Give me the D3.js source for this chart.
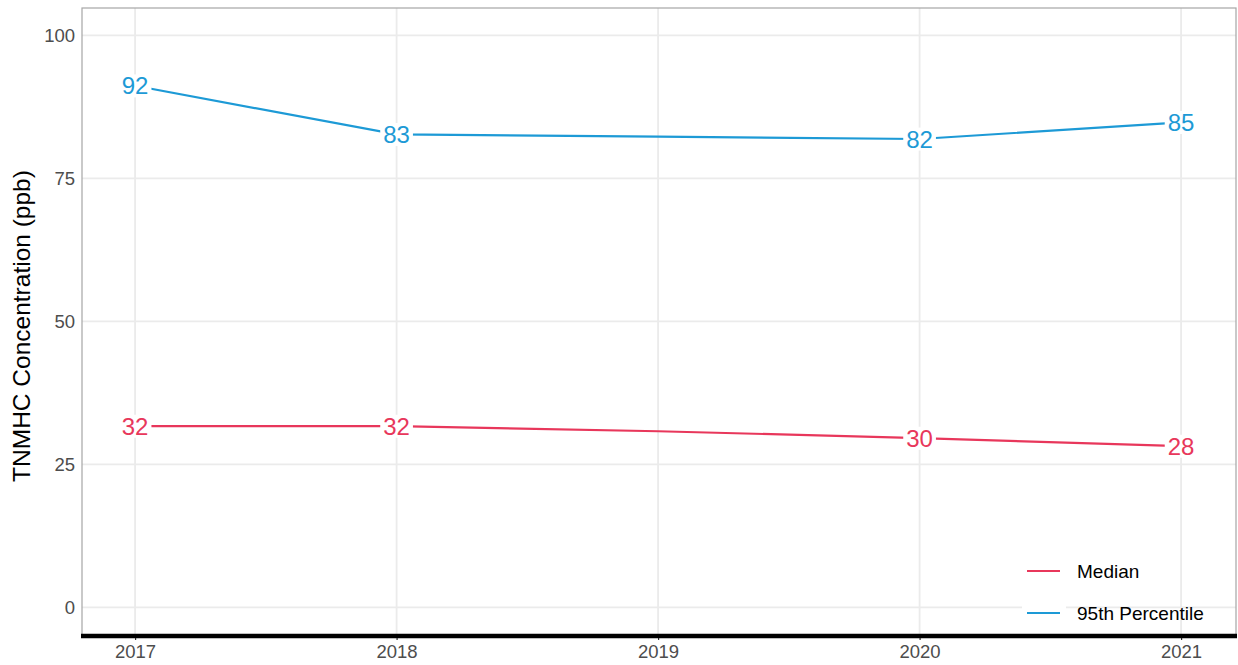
<!DOCTYPE html>
<html><head><meta charset="utf-8">
<script src="https://cdn.jsdelivr.net/npm/d3@7"></script>
<style>body{margin:0;background:#fff;font-family:"Liberation Sans",Arial,sans-serif;}</style>
</head><body><svg id="c" width="1238" height="665"></svg>
<script>
const years = [2017, 2018, 2019, 2020, 2021];
const medianValues = [31.7, 31.7, 30.8, 29.6, 28.2];
const p95Values = [91.2, 82.7, 82.3, 81.9, 84.8];
const medianLabels = ["32", "32", "", "30", "28"];
const p95Labels = ["92", "83", "", "82", "85"];
const yTicks = [0, 25, 50, 75, 100];
const seriesNames = ["Median", "95th Percentile"];
const colors = ["#e8375b", "#1d9ad6"];

const svg = d3.select("#c");
const L = 82, R = 1236, T = 8, B = 636;
const x = d3.scaleLinear().domain([2017 - 0.203, 2021 + 0.21]).range([L, R]);
const y = d3.scaleLinear().domain([-5.0, 104.8]).range([B, T]);

// grid
const g = svg.append("g");
g.selectAll(".hg").data(yTicks).join("line").attr("x1", L).attr("x2", R)
  .attr("y1", d => y(d)).attr("y2", d => y(d)).attr("stroke", "#ebebeb").attr("stroke-width", 1.8);
g.selectAll(".vg").data(years).join("line").attr("y1", T).attr("y2", B)
  .attr("x1", d => x(d)).attr("x2", d => x(d)).attr("stroke", "#ebebeb").attr("stroke-width", 1.8);

// panel border
svg.append("rect").attr("x", L).attr("y", T).attr("width", R - L).attr("height", B - T)
  .attr("fill", "none").attr("stroke", "#a6a6a6").attr("stroke-width", 1.2);

// bottom axis
const xAxis = d3.axisBottom(x).tickValues(years).tickFormat(d3.format("d")).tickSize(4).tickPadding(5);
const xg = svg.append("g").attr("transform", `translate(0,${B})`).call(xAxis);
xg.select(".domain").remove();
xg.selectAll(".tick line").attr("stroke", "#333").attr("stroke-width", 1.2);
xg.selectAll("text").attr("font-size", 18.5).attr("fill", "#4d4d4d").attr("font-family", "Liberation Sans, Arial, sans-serif");
svg.append("line").attr("x1", L - 1).attr("x2", R + 1).attr("y1", B).attr("y2", B).attr("stroke", "#000").attr("stroke-width", 4.5);

// left axis labels
const yAxis = d3.axisLeft(y).tickValues(yTicks).tickSize(0).tickPadding(7);
const yg = svg.append("g").attr("transform", `translate(${L},0)`).call(yAxis);
yg.select(".domain").remove();
yg.selectAll("text").attr("font-size", 18.5).attr("fill", "#4d4d4d").attr("font-family", "Liberation Sans, Arial, sans-serif");

svg.append("text").attr("transform", `translate(30,326) rotate(-90)`)
  .attr("text-anchor", "middle").attr("font-size", 24.5).attr("fill", "#000").text("TNMHC Concentration (ppb)");

// lines
const series = [medianValues, p95Values];
const labels = [medianLabels, p95Labels];
const line = d3.line().x((d, i) => x(years[i])).y(d => y(d));
series.forEach((s, k) => {
  svg.append("path").datum(s).attr("d", line).attr("fill", "none").attr("stroke", colors[k]).attr("stroke-width", 2.2);
});
series.forEach((s, k) => {
  const lg = svg.append("g");
  s.forEach((v, i) => {
    if (!labels[k][i]) return;
    const cx = x(years[i]), cy = y(v);
    const t = lg.append("text").attr("x", cx).attr("y", cy).attr("text-anchor", "middle")
      .attr("dy", "0.36em").attr("font-size", 24).attr("fill", colors[k]).text(labels[k][i]);
    const bb = t.node().getBBox();
    lg.insert("rect", "text").attr("x", bb.x - 3).attr("y", bb.y + 2).attr("width", bb.width + 6).attr("height", bb.height - 4).attr("fill", "#fff");
  });
});

// legend
const leg = svg.append("g");
seriesNames.forEach((n, k) => {
  const ly = 571 + k * 42;
  leg.append("rect").attr("x", 1022).attr("y", ly - 18).attr("width", 44).attr("height", 36).attr("fill", "#fff");
  leg.append("line").attr("x1", 1027).attr("x2", 1060).attr("y1", ly).attr("y2", ly).attr("stroke", colors[k]).attr("stroke-width", 2.2);
  leg.append("text").attr("x", 1077).attr("y", ly).attr("dy", "0.36em").attr("font-size", 19).attr("fill", "#000").text(n);
});
</script></body></html>
